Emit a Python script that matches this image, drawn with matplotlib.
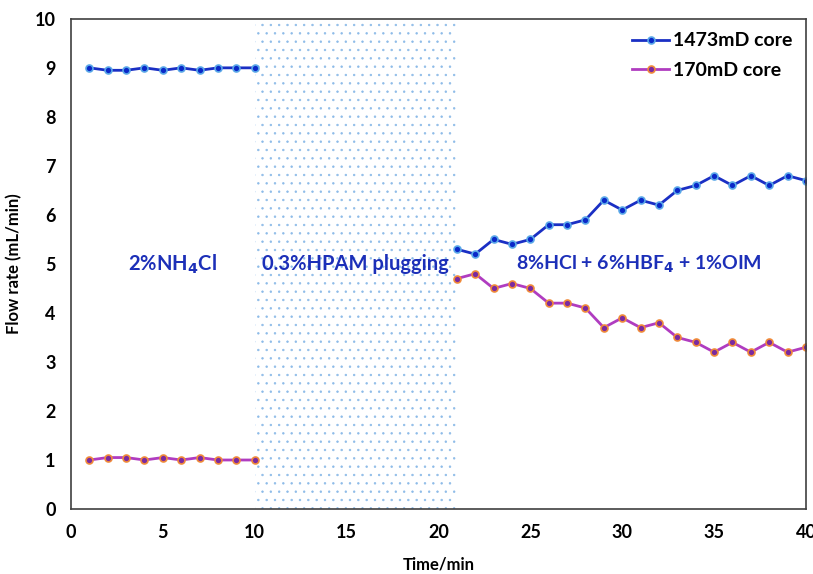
import numpy as np
import matplotlib.pyplot as plt

plt.rcParams['font.family'] = ['Lato', 'DejaVu Sans']
plt.rcParams['font.weight'] = 'bold'
plt.rcParams['hatch.linewidth'] = 0.5

# Flow rate data (mL/min) before and after plugging
t_before = [1, 2, 3, 4, 5, 6, 7, 8, 9, 10]
high_before = [9.0, 8.95, 8.95, 9.0, 8.95, 9.0, 8.95, 9.0, 9.0, 9.0]
low_before = [1.0, 1.05, 1.05, 1.0, 1.05, 1.0, 1.05, 1.0, 1.0, 1.0]

t_after = list(range(21, 41))
high_after = [5.3, 5.2, 5.5, 5.4, 5.5, 5.8, 5.8, 5.9, 6.3, 6.1,
              6.3, 6.2, 6.5, 6.6, 6.8, 6.6, 6.8, 6.6, 6.8, 6.7]
low_after = [4.7, 4.8, 4.5, 4.6, 4.5, 4.2, 4.2, 4.1, 3.7, 3.9,
             3.7, 3.8, 3.5, 3.4, 3.2, 3.4, 3.2, 3.4, 3.2, 3.3]

plug_start, plug_end = 10, 21

fig = plt.figure(figsize=(8.13, 5.74), dpi=100)
ax = fig.add_axes([0.0873, 0.1132, 0.904, 0.854])

# dotted band for the polymer plugging stage
ax.axvspan(plug_start, plug_end, facecolor='none', edgecolor='#8dbbe8',
           hatch='..', linewidth=0)

blue = dict(color='#1a2fc4', marker='o', markersize=5,
            markerfacecolor='#0a28c8', markeredgecolor='#5aa8e8',
            markeredgewidth=1.2, linewidth=2)
purple = dict(color='#b03cc0', marker='o', markersize=5,
              markerfacecolor='#7a2aa0', markeredgecolor='#f08a3a',
              markeredgewidth=1.2, linewidth=2)

ax.plot(t_before, high_before, label='1473mD core', **blue)
ax.plot(t_after, high_after, **blue)
ax.plot(t_before, low_before, label='170mD core', **purple)
ax.plot(t_after, low_after, **purple)

txt = dict(color='#1c2fb8', fontsize=14.5, fontweight='bold',
           ha='center', va='center')
ax.text(5.5, 5.0, '2%NH$_\\mathbf{4}$Cl', **txt)
ax.text(15.5, 5.0, '0.3%HPAM plugging', **txt)
ax.text(30.9, 5.0, '8%HCl + 6%HBF$_\\mathbf{4}$ + 1%OIM', fontsize=14,
        **{k: v for k, v in txt.items() if k != 'fontsize'})

ax.set_xlim(0, 40)
ax.set_ylim(0, 10)
ax.set_xticks(range(0, 41, 5))
ax.set_yticks(range(0, 11))
ax.tick_params(length=0, labelsize=13, pad=11)
for lab in ax.get_xticklabels() + ax.get_yticklabels():
    lab.set_fontweight('bold')
for s in ax.spines.values():
    s.set_color('#404040')
    s.set_linewidth(1.2)

ax.set_xlabel('Time/min', fontsize=12, fontweight='bold', labelpad=11)
ax.set_ylabel('Flow rate (mL/min)', fontsize=12, fontweight='bold', labelpad=9)

leg = ax.legend(loc='upper right', frameon=False, fontsize=14,
                handlelength=1.9, handletextpad=0.2, borderaxespad=0.3,
                labelspacing=0.65)
for t in leg.get_texts():
    t.set_fontweight('bold')

fig.savefig('out.png', dpi=100)
